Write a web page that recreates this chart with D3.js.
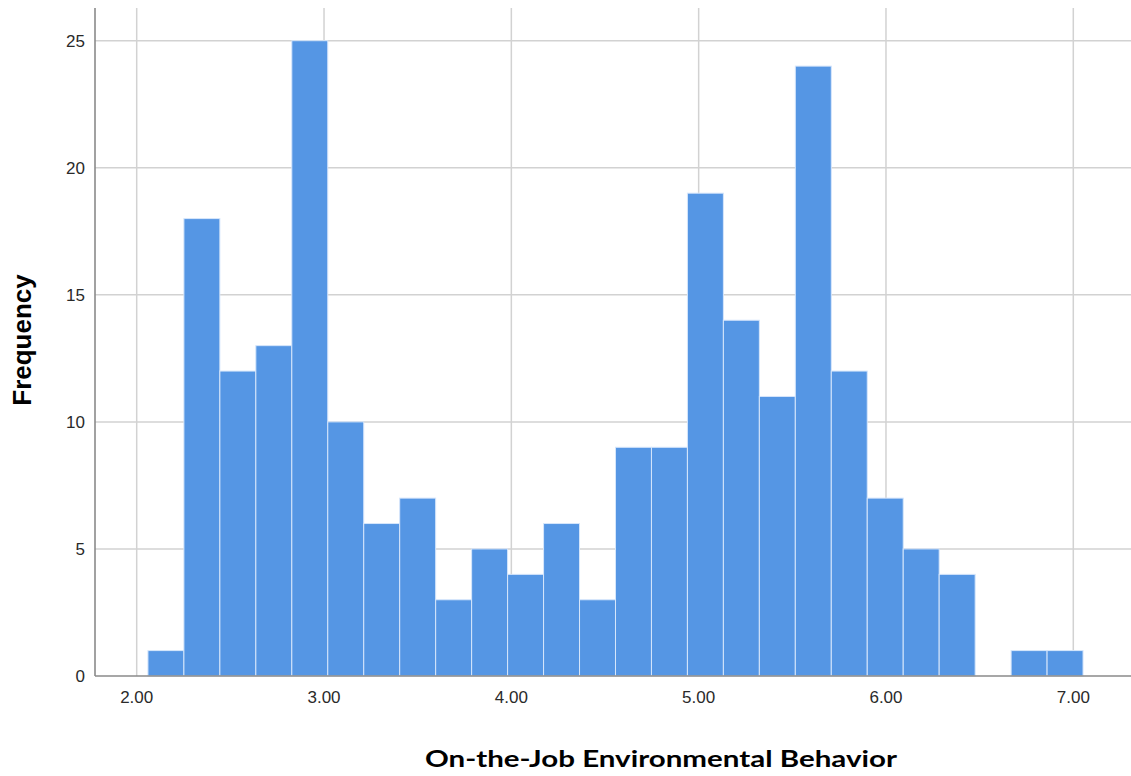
<!DOCTYPE html>
<html>
<head>
<meta charset="utf-8">
<script src="https://cdn.jsdelivr.net/npm/d3@7"></script>
<style>
  html, body { margin: 0; padding: 0; background: #fff; }
  svg { display: block; }
</style>
</head>
<body>
<svg id="chart" width="1131" height="776"></svg>
<script>
// ---- data ----
const binStart = 2.06;
const binWidth = 0.192;
const frequencies = [1, 18, 12, 13, 25, 10, 6, 7, 3, 5, 4, 6, 3, 9, 9, 19, 14, 11, 24, 12, 7, 5, 4, 0, 1, 1];
const xTicks = [2, 3, 4, 5, 6, 7];
const yTicks = [0, 5, 10, 15, 20, 25];
const xTitle = "On-the-Job Environmental Behavior";
const yTitle = "Frequency";

const bins = frequencies.map((f, i) => ({ x0: binStart + i * binWidth, x1: binStart + (i + 1) * binWidth, count: f }));

// ---- layout ----
const svg = d3.select("#chart");
const pLeft = 95, pRight = 1131, pTop = 8, pBottom = 676;

const x = d3.scaleLinear().domain([2, 7]).range([136.7, 1073.3]);
const y = d3.scaleLinear().domain([0, 25]).range([pBottom, 40.7]);

// gridlines
const grid = svg.append("g");
grid.selectAll("line.v").data(xTicks).join("line")
  .attr("x1", d => x(d)).attr("x2", d => x(d))
  .attr("y1", pTop).attr("y2", pBottom)
  .attr("stroke", "#d2d2d2").attr("stroke-width", 1.5);
grid.selectAll("line.h").data(yTicks.filter(d => d > 0)).join("line")
  .attr("x1", pLeft).attr("x2", pRight)
  .attr("y1", d => y(d)).attr("y2", d => y(d))
  .attr("stroke", "#d2d2d2").attr("stroke-width", 1.5);

// bars
svg.append("g").selectAll("rect").data(bins.filter(b => b.count > 0)).join("rect")
  .attr("x", d => x(d.x0))
  .attr("width", d => x(d.x1) - x(d.x0))
  .attr("y", d => y(d.count))
  .attr("height", d => y(0) - y(d.count))
  .attr("fill", "#5596e4")
  .attr("stroke", "#d6e6fb")
  .attr("stroke-width", 1);

// axes lines
svg.append("line").attr("x1", pLeft).attr("x2", pLeft).attr("y1", pTop).attr("y2", pBottom)
  .attr("stroke", "#8a8a8a").attr("stroke-width", 1.6);
svg.append("line").attr("x1", pLeft).attr("x2", pRight).attr("y1", pBottom).attr("y2", pBottom)
  .attr("stroke", "#8a8a8a").attr("stroke-width", 1.6);

// tick labels
const fontTicks = "'Liberation Sans', Arial, sans-serif";
svg.append("g").selectAll("text").data(yTicks).join("text")
  .attr("x", 85).attr("y", d => y(d))
  .attr("dy", "0.36em")
  .attr("text-anchor", "end")
  .attr("font-family", fontTicks).attr("font-size", 17)
  .attr("fill", "#2a2a2a")
  .text(d => d);
svg.append("g").selectAll("text").data(xTicks).join("text")
  .attr("x", d => x(d)).attr("y", 703)
  .attr("text-anchor", "middle")
  .attr("font-family", fontTicks).attr("font-size", 17)
  .attr("fill", "#2a2a2a")
  .text(d => d.toFixed(2));

// titles
svg.append("text")
  .attr("x", 661).attr("y", 767)
  .attr("text-anchor", "middle")
  .attr("font-family", "Lato, 'Open Sans', sans-serif").attr("font-weight", "bold")
  .attr("font-size", 23)
  .attr("textLength", 472).attr("lengthAdjust", "spacingAndGlyphs")
  .attr("fill", "#000")
  .text(xTitle);
svg.append("text")
  .attr("transform", "translate(31,340) rotate(-90)")
  .attr("text-anchor", "middle")
  .attr("font-family", fontTicks).attr("font-weight", "bold")
  .attr("font-size", 26)
  .attr("fill", "#000")
  .text(yTitle);
</script>
</body>
</html>
